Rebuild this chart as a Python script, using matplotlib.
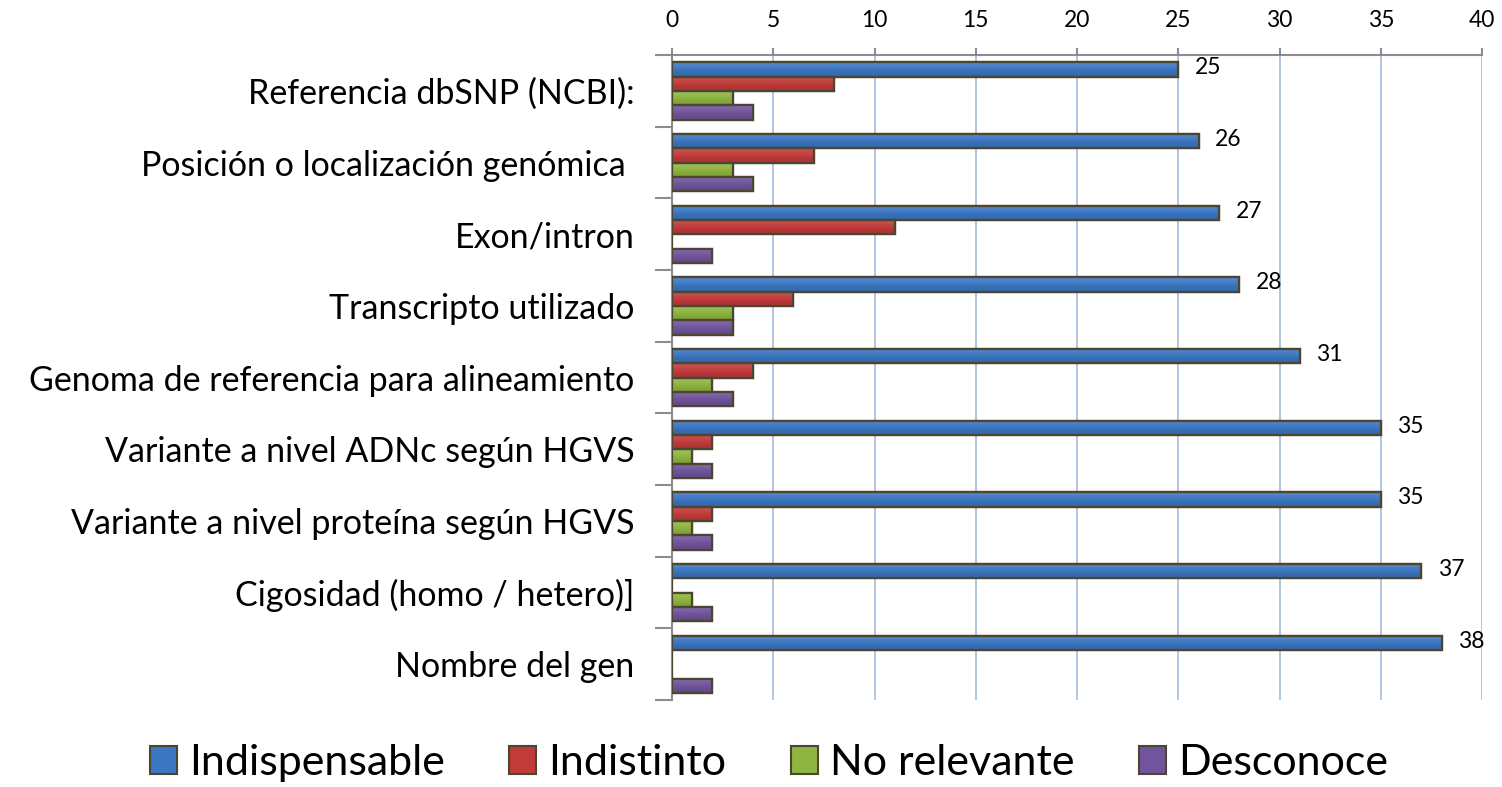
import numpy as np
import matplotlib
matplotlib.use("Agg")
import matplotlib.pyplot as plt
from matplotlib.patches import Patch
from matplotlib.colors import to_rgb

plt.rcParams['font.family'] = ['Lato', 'DejaVu Sans']

categories = ["Referencia dbSNP (NCBI):", "Posición o localización genómica ",
              "Exon/intron", "Transcripto utilizado",
              "Genoma de referencia para alineamiento",
              "Variante a nivel ADNc según HGVS",
              "Variante a nivel proteína según HGVS",
              "Cigosidad (homo / hetero)]", "Nombre del gen"]
indispensable = [25, 26, 27, 28, 31, 35, 35, 37, 38]
indistinto = [8, 7, 11, 6, 4, 2, 2, 0, 0]
no_relevante = [3, 3, 0, 3, 2, 1, 1, 1, 0]
desconoce = [4, 4, 2, 3, 3, 2, 2, 2, 2]

series = [("Indispensable", indispensable, "#3b76c2"),
          ("Indistinto", indistinto, "#c23b3a"),
          ("No relevante", no_relevante, "#8fb640"),
          ("Desconoce", desconoce, "#71549d")]
edge = "#4a4632"


def shade(col, f):
    r, g, b = to_rgb(col)
    if f >= 0:
        return (r + (1 - r) * f, g + (1 - g) * f, b + (1 - b) * f)
    return (r * (1 + f), g * (1 + f), b * (1 + f))


fig = plt.figure(figsize=(15.02, 7.87), dpi=100)
ax = fig.add_axes([0.4474, 0.1105, 0.5393, 0.8196])

y = np.arange(len(categories))
h = 0.2
offsets = [-0.3, -0.1, 0.1, 0.3]
for (name, vals, col), off in zip(series, offsets):
    bars = ax.barh(y + off, vals, height=h, color=col, edgecolor=edge, linewidth=1.6, zorder=3)
    # soft vertical gradient inside each bar, lighter on top
    grad = np.array([shade(col, 0.12), shade(col, 0.0), shade(col, -0.12)])[:, None, :]
    for b in bars:
        if b.get_width() <= 0:
            continue
        x0, y0, w, hh = b.get_x(), b.get_y(), b.get_width(), b.get_height()
        im = ax.imshow(grad, extent=[x0, x0 + w, y0, y0 + hh], aspect="auto",
                       interpolation="bicubic", zorder=3.5, origin="lower")
        im.set_clip_path(b)
        b2 = ax.add_patch(plt.Rectangle((x0, y0), w, hh, fill=False, edgecolor=edge,
                                        linewidth=1.6, zorder=4))

# value labels for the first series only
for yi, v in zip(y, indispensable):
    ax.annotate(str(v), (v, yi - 0.3), xytext=(12, 1), textcoords="offset points",
                va="center", ha="left", fontsize=16.5)

ax.set_xlim(0, 40)
ax.set_ylim(len(categories) - 0.5, -0.5)
ax.xaxis.tick_top()
ax.set_xticks(np.arange(0, 41, 5))
ax.tick_params(axis="x", which="major", direction="out", length=5, width=1.5,
               color="#8c8c8c", labelsize=16.5, pad=12)
ax.grid(axis="x", color="#a9c1e2", linewidth=1.3, zorder=0)

ax.set_yticks(np.arange(-0.5, len(categories), 1))
ax.set_yticklabels([])
ax.set_yticks(y, minor=True)
ax.set_yticklabels(categories, minor=True, fontsize=24.5)
ax.tick_params(axis="y", which="major", direction="out", length=12, width=1.5, color="#8c8c8c")
ax.tick_params(axis="y", which="minor", length=0, pad=27)

for s in ["bottom", "right"]:
    ax.spines[s].set_visible(False)
for s in ["top", "left"]:
    ax.spines[s].set_color("#8c8c8c")
    ax.spines[s].set_linewidth(1.5)

handles = [Patch(facecolor=c, edgecolor=edge, linewidth=1.5, label=n) for n, _, c in series]
fig.legend(handles=handles, loc="center", bbox_to_anchor=(0.512, 0.03), ncol=4, frameon=False,
           fontsize=31, handlelength=0.63, handleheight=0.63, handletextpad=0.28,
           columnspacing=1.5, borderpad=0)

fig.savefig("out.png", dpi=100)
